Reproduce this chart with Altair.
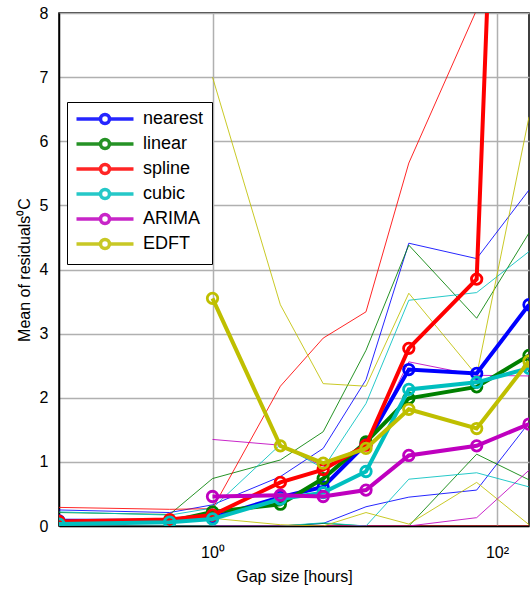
import altair as alt
import pandas as pd

# Gap lengths in hours (5 min ... 1 week)
gap_hours = [0.0833, 0.5, 1, 3, 6, 12, 24, 72, 168]

methods = ["nearest", "linear", "spline", "cubic", "ARIMA", "EDFT"]
colors = ["#0000ff", "#008000", "#ff0000", "#00bfbf", "#bf00bf", "#bfbf00"]

# Mean of residuals per method (bold curves)
mean_nearest = [0.08, 0.08, 0.13, 0.45, 0.61, 1.28, 2.44, 2.38, 3.45]
mean_linear = [0.05, 0.07, 0.22, 0.34, 0.74, 1.31, 1.99, 2.17, 2.66]
mean_spline = [0.07, 0.10, 0.17, 0.68, 0.88, 1.26, 2.77, 3.85, 25.0]
mean_cubic = [0.03, 0.06, 0.11, 0.42, 0.52, 0.85, 2.13, 2.24, 2.46]
mean_arima = [None, None, 0.46, 0.48, 0.46, 0.56, 1.10, 1.25, 1.59]
mean_edft = [None, None, 3.55, 1.25, 0.98, 1.21, 1.82, 1.52, 2.57]

# Upper and lower spread per method (thin curves)
hi_nearest = [0.25, 0.21, 0.33, 0.77, 1.21, 2.28, 4.41, 4.17, 5.24]
lo_nearest = [0.0, 0.0, 0.0, 0.0, 0.04, 0.30, 0.45, 0.56, 1.61]
hi_linear = [0.21, 0.18, 0.74, 1.03, 1.47, 2.74, 4.38, 3.24, 4.57]
lo_linear = [0.0, 0.0, 0.0, 0.0, 0.04, 0.0, 0.0, 1.12, 0.72]
hi_spline = [0.29, 0.26, 0.27, 2.18, 2.93, 3.34, 5.66, 8.05, 40.0]
lo_spline = [0.0, 0.0, 0.0, 0.0, 0.0, 0.0, 0.0, 0.0, 0.0]
hi_cubic = [0.22, 0.17, 0.28, 1.27, 0.90, 1.91, 3.52, 3.64, 4.28]
lo_cubic = [0.0, 0.0, 0.0, 0.0, 0.05, 0.0, 0.73, 0.83, 0.61]
hi_arima = [None, None, 1.35, 1.26, 0.93, 1.20, 2.56, 2.35, 2.34]
lo_arima = [None, None, 0.0, 0.0, 0.0, 0.0, 0.0, 0.13, 0.87]
hi_edft = [None, None, 7.00, 3.45, 2.22, 2.18, 3.63, 2.35, 6.38]
lo_edft = [None, None, 0.12, 0.02, 0.0, 0.21, 0.03, 0.68, 0.02]

means = [mean_nearest, mean_linear, mean_spline, mean_cubic, mean_arima, mean_edft]
highs = [hi_nearest, hi_linear, hi_spline, hi_cubic, hi_arima, hi_edft]
lows = [lo_nearest, lo_linear, lo_spline, lo_cubic, lo_arima, lo_edft]

mean_rows = []
thin_rows = []
for m, c, mv, hv, lv in zip(methods, colors, means, highs, lows):
    for g, v in zip(gap_hours, mv):
        if v is not None:
            mean_rows.append({"method": m, "gap": g, "value": v})
    for tag, series in (("hi", hv), ("lo", lv)):
        for g, v in zip(gap_hours, series):
            if v is not None:
                thin_rows.append({"key": f"{m}-{tag}", "col": c, "gap": g, "value": v})

df_mean = pd.DataFrame(mean_rows)
df_thin = pd.DataFrame(thin_rows)

x_enc = alt.X(
    "gap:Q",
    scale=alt.Scale(type="log", domain=[0.0833, 168], nice=False),
    axis=alt.Axis(
        title="Gap size [hours]",
        values=[1, 100],
        labelExpr="datum.value == 1 ? '10⁰' : '10²'",
        grid=True,
        ticks=False,
        labelPadding=18,
        titlePadding=8,
    ),
)
y_enc = alt.Y(
    "value:Q",
    scale=alt.Scale(domain=[0, 8], nice=False, zero=False),
    axis=alt.Axis(
        title="Mean of residuals⁰C",
        values=list(range(0, 9)),
        grid=True,
        ticks=False,
        labelPadding=11,
        titlePadding=7,
    ),
)

# Legend symbol: a short line with an open circle, drawn in units of
# sqrt(symbolSize)/2 around the symbol anchor.
u = 6.5
half = 28.5 / u
rad = 4.5 / u
cx = 21.0 / u
x0, x1 = cx - half, cx + half
legend_path = (
    f"M{x0:.3f},0L{cx - rad:.3f},0M{cx + rad:.3f},0L{x1:.3f},0"
    f"M{cx - rad:.3f},0A{rad:.3f},{rad:.3f},0,1,1,{cx + rad:.3f},0"
    f"A{rad:.3f},{rad:.3f},0,1,1,{cx - rad:.3f},0"
)
legend = alt.Legend(
    title=None,
    orient="none",
    legendX=8,
    legendY=89,
    symbolType=legend_path,
    symbolSize=(2 * u) ** 2,
    symbolStrokeWidth=3.5,
    symbolFillColor="transparent",
    labelFontSize=18,
    labelOffset=50,
    strokeColor="black",
    fillColor="white",
    padding=8,
    rowPadding=1,
)
color_enc = alt.Color(
    "method:N",
    scale=alt.Scale(domain=methods, range=colors),
    legend=legend,
)

thin = alt.Chart(df_thin).mark_line(strokeWidth=1, opacity=0.85, clip=True).encode(
    x=x_enc,
    y=y_enc,
    color=alt.Color("col:N", scale=None),
    detail="key:N",
    order="gap:Q",
)

layers = [thin]
for m in methods:
    base = alt.Chart(df_mean).transform_filter(alt.datum.method == m)
    layers.append(
        base.mark_line(strokeWidth=4, clip=True).encode(
            x=x_enc, y=y_enc, color=color_enc, order="gap:Q"
        )
    )
    layers.append(
        base.mark_point(shape="circle", filled=False, size=110, strokeWidth=2.8, opacity=1, clip=True).encode(
            x=x_enc, y=y_enc, color=color_enc
        )
    )

chart = (
    alt.layer(*layers)
    .properties(
        width=470,
        height=513,
        padding={"left": 59, "top": 13, "right": 2, "bottom": 66},
        autosize="none",
    )
    .configure(font="Liberation Sans")
    .configure_view(stroke="black", strokeWidth=1.5)
    .configure_axis(
        labelFontSize=16,
        titleFontSize=16,
        labelColor="black",
        titleColor="black",
        titleFontWeight="normal",
        domainColor="black",
        domainWidth=1.5,
        gridColor="#b0b0b0",
        gridWidth=1.5,
        labelFont="Liberation Sans",
        titleFont="Liberation Sans",
    )
    .configure_legend(labelFont="Liberation Sans", labelColor="black")
)

chart.save("out.html", embed_options={"renderer": "svg", "actions": False})
